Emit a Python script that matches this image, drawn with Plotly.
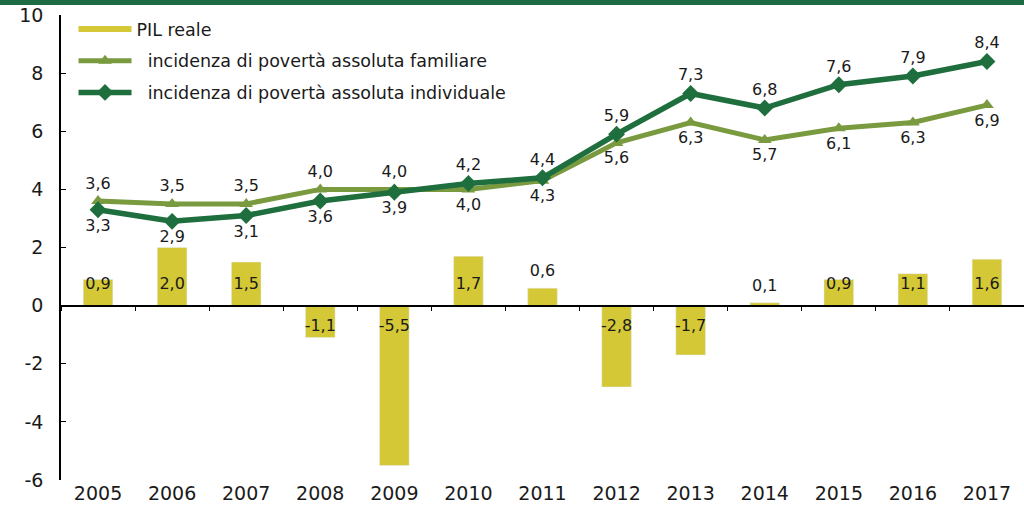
import plotly.graph_objects as go

years = ["2005", "2006", "2007", "2008", "2009", "2010", "2011",
         "2012", "2013", "2014", "2015", "2016", "2017"]
pil = [0.9, 2.0, 1.5, -1.1, -5.5, 1.7, 0.6, -2.8, -1.7, 0.1, 0.9, 1.1, 1.6]
familiare = [3.6, 3.5, 3.5, 4.0, 4.0, 4.0, 4.3, 5.6, 6.3, 5.7, 6.1, 6.3, 6.9]
individuale = [3.3, 2.9, 3.1, 3.6, 3.9, 4.2, 4.4, 5.9, 7.3, 6.8, 7.6, 7.9, 8.4]
y_ticks = [-6, -4, -2, 0, 2, 4, 6, 8, 10]
y_ticklabels = ["-6", "-4", "-2", "0", "2", "4", "6", "8", "10"]

C_BAR = "#D5C836"
C_FAM = "#799A3E"
C_IND = "#1E6E3E"
C_TOP = "#1F6B45"
FONT = "DejaVu Sans"
TXT = "#1a1a1a"


def fmt(v):
    return f"{v:.1f}".replace(".", ",")


# label anchor for bars: inside near base for larger bars, just above for tiny ones
def bar_label_y(v):
    if abs(v) < 0.8:
        return v + 0.55
    return 0.72 if v > 0 else -0.72


pil_label_y = [bar_label_y(v) for v in pil]
pil_text = [fmt(v) for v in pil]
fam_text = [fmt(v) for v in familiare]
ind_text = [fmt(v) for v in individuale]

fam_pos = ["top center"] * 5 + ["bottom center"] * 8
ind_pos = ["bottom center"] * 5 + ["top center"] * 8

label_font = dict(size=16, color=TXT, family=FONT)

fig = go.Figure()
fig.add_trace(go.Bar(x=years, y=pil, name="PIL reale", marker_color=C_BAR,
                     width=0.4, hoverinfo="skip", showlegend=False))
# legend swatch for the bars (wide flat rectangle)
fig.add_trace(go.Scatter(x=[None], y=[None], mode="lines", name="PIL reale",
                         line=dict(color=C_BAR, width=6), legendgroup="a",
                         hoverinfo="skip"))
fig.add_trace(go.Scatter(x=years, y=pil_label_y, mode="text", text=pil_text,
                         textfont=label_font, showlegend=False, hoverinfo="skip"))
fig.add_trace(go.Scatter(x=years, y=familiare, mode="lines+markers+text",
                         name="  incidenza di povertà assoluta familiare",
                         legendgroup="b",
                         line=dict(color=C_FAM, width=5),
                         marker=dict(symbol="triangle-up", size=12, color=C_FAM),
                         text=fam_text, textposition=fam_pos,
                         textfont=label_font))
fig.add_trace(go.Scatter(x=years, y=individuale, mode="lines+markers+text",
                         name="  incidenza di povertà assoluta individuale",
                         legendgroup="c",
                         line=dict(color=C_IND, width=5.5),
                         marker=dict(symbol="diamond", size=13, color=C_IND),
                         text=ind_text, textposition=ind_pos,
                         textfont=label_font))
# invisible trace for the zero-crossing axis with boundary ticks
fig.add_trace(go.Scatter(x=years, y=[None] * len(years), xaxis="x2",
                         showlegend=False, hoverinfo="skip"))

fig.update_layout(
    width=1024, height=518,
    margin=dict(l=61, r=0, t=15, b=38),
    paper_bgcolor="white", plot_bgcolor="white",
    font=dict(family=FONT, size=17, color=TXT),
    showlegend=True,
    legend=dict(x=0.013, y=1 + 4 / 465, xanchor="left", yanchor="top",
                bgcolor="rgba(0,0,0,0)", font=dict(size=17.5, family=FONT, color=TXT),
                tracegroupgap=6, itemwidth=53),
    xaxis=dict(type="category", showline=False, showgrid=False, ticks="",
               tickfont=dict(size=19, family=FONT, color=TXT), zeroline=False,
               range=[-0.5, 12.5]),
    xaxis2=dict(type="category", overlaying="x", anchor="free",
                position=6 / 16, side="bottom", matches="x",
                showline=True, linecolor="#000", linewidth=1.5,
                ticks="outside", ticklen=5, tickcolor="#000",
                tickson="boundaries", showticklabels=False, showgrid=False),
    yaxis=dict(range=[-6, 10], tickvals=y_ticks, ticktext=y_ticklabels,
               showgrid=False, zeroline=False, showline=True, linecolor="#000",
               linewidth=1.5, ticks="inside", ticklen=5, tickcolor="#000",
               ticklabelstandoff=12,
               tickfont=dict(size=19, family=FONT, color=TXT)),
)
fig.add_shape(type="rect", xref="paper", yref="paper",
              x0=-0.1, x1=1.1, y0=1 + 10 / 465, y1=1 + 16 / 465,
              fillcolor=C_TOP, line_width=0, layer="above")

fig.write_html("out.html", config={"displayModeBar": False},
               post_script="document.body.style.margin='0';")
